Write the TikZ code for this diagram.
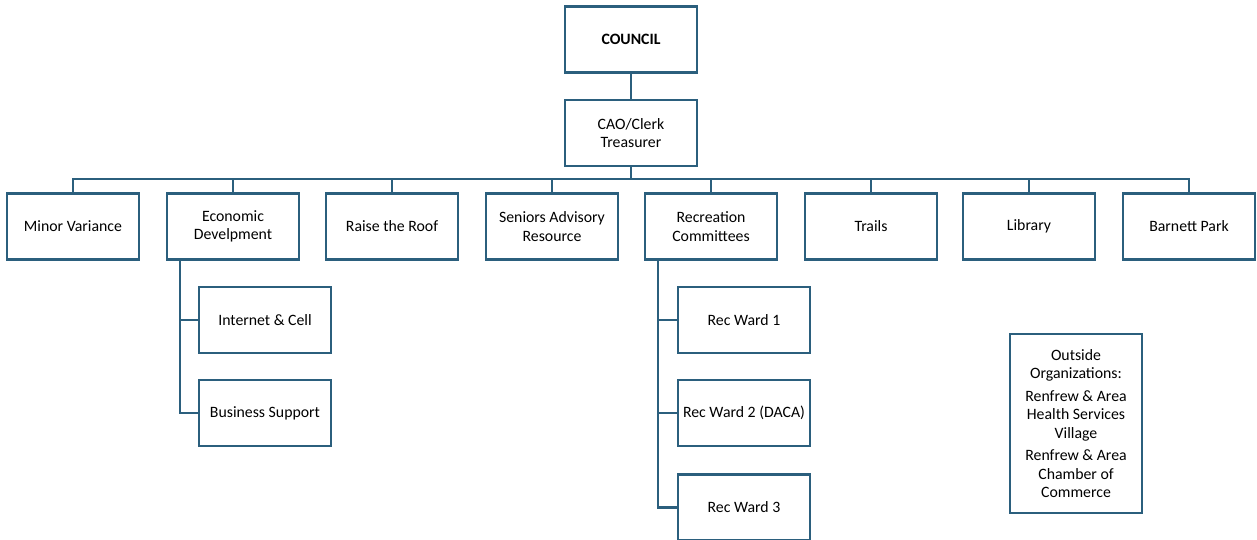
\documentclass[tikz,border=0pt]{standalone}
\usepackage{fontspec}
\setmainfont{Carlito}
\definecolor{lc}{HTML}{2B5F7D}
\begin{document}
\begin{tikzpicture}[x=1pt,y=-1pt,
  box/.style={draw=lc,line width=2.2pt,fill=white,minimum width=132pt,minimum height=66pt,inner sep=2pt,align=center,font=\fontsize{15.8}{18.5}\selectfont},
  conn/.style={draw=lc,line width=2.2pt}]
\useasboundingbox (0,0) rectangle (1257,540);
\node[box] (council) at (631,39.5) {\textbf{COUNCIL}};
\node[box] (cao) at (631,133) {CAO/Clerk\\Treasurer};
\coordinate (bus) at (631,179);
\node[box] (mv) at (73,226.5) {Minor Variance};
\node[box] (eco) at (233,226.5) {Economic\\Develpment};
\node[box] (roof) at (392,226.5) {Raise the Roof};
\node[box] (sen) at (552,226.5) {Seniors Advisory\\Resource};
\node[box] (rec) at (711,226.5) {Recreation\\Committees};
\node[box] (trails) at (871,226.5) {Trails};
\node[box] (lib) at (1029,226.5) {Library};
\node[box] (bp) at (1189,226.5) {Barnett Park};
\node[box] (inet) at (265,320) {Internet \& Cell};
\node[box] (biz) at (265,413) {Business Support};
\node[box] (rw1) at (744,320) {Rec Ward 1};
\node[box] (rw2) at (744,413) {Rec Ward 2 (DACA)};
\node[box] (rw3) at (744,507.5) {Rec Ward 3};
\node[box,minimum height=179pt] (out) at (1076,423.5) {Outside\\Organizations:\\[4pt]Renfrew \& Area\\Health Services\\Village\\[4pt]Renfrew \& Area\\Chamber of\\Commerce};
\coordinate (ecoL) at (180,260);
\coordinate (recL) at (658,260);
\draw[conn] (council.south) -- (cao.north);
\draw[conn] (cao.south) -- (bus);
\draw[conn] (mv.north) |- (bus);
\draw[conn] (bp.north) |- (bus);
\foreach \n in {eco,roof,sen,rec,trails,lib} \draw[conn] (\n.north) -- (\n.north |- bus);
\draw[conn] (ecoL) |- (inet.west);
\draw[conn] (ecoL) |- (biz.west);
\draw[conn] (recL) |- (rw1.west);
\draw[conn] (recL) |- (rw2.west);
\draw[conn] (recL) |- (rw3.west);
\end{tikzpicture}
\end{document}
